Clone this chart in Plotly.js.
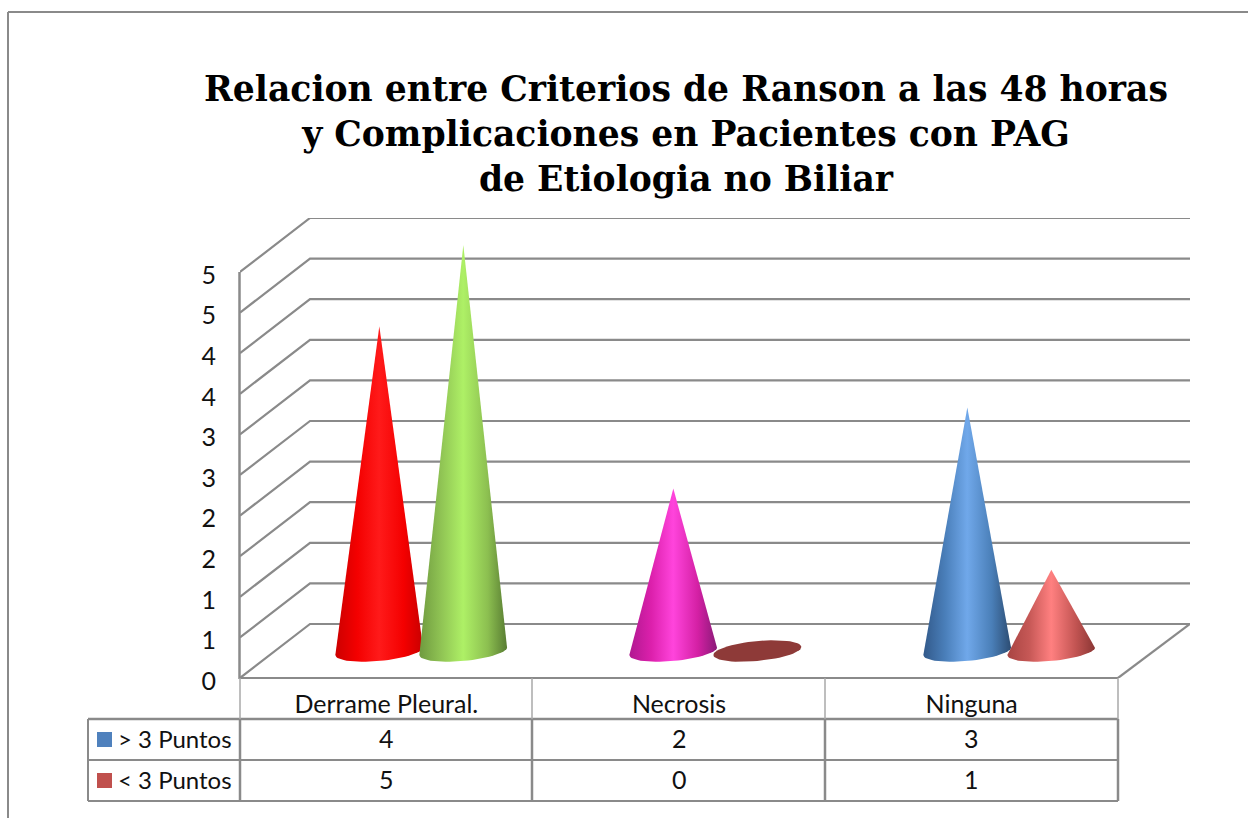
<!DOCTYPE html>
<html>
<head>
<meta charset="utf-8">
<script src="https://cdn.plot.ly/plotly-3.0.1.min.js"></script>
<style>html,body{margin:0;padding:0;background:#fff;overflow:hidden}</style>
</head>
<body>
<div id="chart" style="width:1248px;height:818px"></div>
<script>
// ---- data ----
const categories = ["Derrame Pleural.", "Necrosis", "Ninguna"];
const seriesNames = ["> 3 Puntos", "< 3 Puntos"];
const seriesHigh = [4, 2, 3];
const seriesLow = [5, 0, 1];
const gridValues = [0, 0.5, 1, 1.5, 2, 2.5, 3, 3.5, 4, 4.5, 5];
const tickLabels = ["0", "1", "1", "2", "2", "3", "3", "4", "4", "5", "5"];
const titleText = "Relacion entre Criterios de Ranson a las 48 horas<br>y Complicaciones en Pacientes con PAG<br>de Etiologia no Biliar";

// ---- styles ----
const gray = "#8a8a8a";
const legendColors = ["#4f81bd", "#c0504d"];
// [edge-left, mid-left, highlight, mid-right, edge-right]
const highPalettes = [
  ["#cc0000", "#f40000", "#ff1a1a", "#f40000", "#c80000"],
  ["#b01890", "#dc20ac", "#ff44dc", "#d420a4", "#8a1a78"],
  ["#32598a", "#4a7fba", "#70a8ea", "#4a7fb8", "#2c4c72"]
];
const lowPalettes = [
  ["#6f9a3f", "#90c454", "#aef066", "#8cbf50", "#587c32"],
  ["#8e3a38", "#8e3a38", "#8e3a38", "#8e3a38", "#8e3a38"],
  ["#a84442", "#c65856", "#ff8080", "#c25452", "#8a3634"]
];

// ---- geometry (plot frame in pixels) ----
const PX = {left: 240, right: 1190, top: 218, bottom: 678, front: 1118};
const catPx = (PX.front - PX.left) / categories.length;
const unitPx = 81.2;
const xRange = [-0.5, -0.5 + (PX.right - PX.left) / catPx];
const yRange = [0, (PX.bottom - PX.top) / unitPx];
const depthX = 70 / catPx, depthY = 54 / unitPx;
const coneAX = 44 / catPx, coneBY = 10 / unitPx, coneTilt = 4 / unitPx;
const coneBaseY = 27 / unitPx, coneShift = 35 / catPx, coneGap = 42 / catPx, coneStep = 294 / catPx;

function cone(catIndex, side, value, palette, name) {
  const cx = catIndex * coneStep + coneShift + side * coneGap;
  const xs = [], ys = [];
  if (value > 0) { xs.push(cx); ys.push(coneBaseY + value); }
  const endDeg = value > 0 ? 180 : 360;
  for (let d = 0; d <= endDeg; d += 6) {
    const t = d * Math.PI / 180;
    xs.push(cx + coneAX * Math.cos(t));
    ys.push(coneBaseY + coneTilt * Math.cos(t) - coneBY * Math.sin(t));
  }
  return {
    type: "scatter", mode: "lines", x: xs, y: ys, name: name,
    fill: "toself", line: {width: 0, color: palette[2]},
    fillcolor: palette[2],
    fillgradient: {type: "horizontal", colorscale: [
      [0, palette[0]], [0.25, palette[1]], [0.5, palette[2]], [0.78, palette[3]], [1, palette[4]]
    ]},
    hoverinfo: "skip", showlegend: false
  };
}

// walls and floor
const gx = [], gy = [];
gridValues.forEach(v => {
  gx.push(-0.5, -0.5 + depthX, xRange[1], null);
  gy.push(v, v + depthY, v + depthY, null);
});
gx.push(2.5, xRange[1]);
gy.push(0, depthY);
const gridTrace = {
  type: "scatter", mode: "lines", x: gx, y: gy,
  line: {color: gray, width: 2.2}, hoverinfo: "skip", showlegend: false
};

const traces = [gridTrace];
categories.forEach((c, i) => {
  traces.push(cone(i, -1, seriesHigh[i], highPalettes[i], seriesNames[0]));
  traces.push(cone(i, 1, seriesLow[i], lowPalettes[i], seriesNames[1]));
});

// paper helpers
const fx = px => (px - PX.left) / (PX.right - PX.left);
const fy = py => (PX.bottom - py) / (PX.bottom - PX.top);
const seg = (x0, y0, x1, y1, w, col) => ({
  type: "line", xref: "paper", yref: "paper",
  x0: fx(x0), y0: fy(y0), x1: fx(x1), y1: fy(y1),
  line: {color: col || gray, width: w || 2}
});
const rowY = [719, 760, 801];
const shapes = [
  seg(8, 12, 1248, 12, 2), seg(8, 12, 8, 818, 2),
  seg(239.5, 272, 239.5, 679, 2.5),
  seg(240, 678, 1118, 678, 2.2),
  seg(88, rowY[0], 1118, rowY[0], 2.5), seg(88, rowY[1], 1118, rowY[1], 2), seg(88, rowY[2], 1118, rowY[2], 2),
  seg(88, rowY[0], 88, rowY[2], 2),
  seg(240, 678, 240, rowY[0], 1.5, "#a8a8a8"), seg(532, 678, 532, rowY[0], 1.5, "#a8a8a8"),
  seg(825, 678, 825, rowY[0], 1.5, "#a8a8a8"), seg(1118, 678, 1118, rowY[0], 1.5, "#a8a8a8"),
  seg(240, rowY[0], 240, rowY[2], 2.5), seg(532, rowY[0], 532, rowY[2], 2.5),
  seg(825, rowY[0], 825, rowY[2], 2.5), seg(1118, rowY[0], 1118, rowY[2], 2.5)
];
[0, 1].forEach(r => shapes.push({
  type: "rect", xref: "paper", yref: "paper",
  x0: fx(97), x1: fx(112), y0: fy(732 + 41 * r), y1: fy(747 + 41 * r),
  fillcolor: legendColors[r], line: {width: 0}
}));

const tableFont = {family: "Lato, 'Open Sans', sans-serif", size: 25, color: "#111"};
const legendFont = {family: "Lato, 'Open Sans', sans-serif", size: 24, color: "#111"};
const annotations = [];
[seriesHigh, seriesLow].forEach((row, r) => {
  const cy = fy(738 + 41 * r);
  annotations.push({
    xref: "paper", yref: "paper", x: fx(115.5), y: cy, xanchor: "left", yanchor: "middle",
    text: seriesNames[r].replace("<", "&lt;"), showarrow: false, font: legendFont
  });
  row.forEach((v, i) => annotations.push({
    xref: "x", yref: "paper", x: i, y: cy, xanchor: "center", yanchor: "middle",
    text: String(v), showarrow: false, font: tableFont
  }));
});

const layout = {
  width: 1248, height: 818,
  margin: {l: PX.left, r: 1248 - PX.right, t: PX.top, b: 818 - PX.bottom},
  paper_bgcolor: "#fff", plot_bgcolor: "rgba(0,0,0,0)",
  title: {
    text: titleText, x: 686 / 1248, xanchor: "center", xref: "container",
    y: 1 - 101 / 818, yanchor: "top", yref: "container",
    font: {family: "'DejaVu Serif', serif", size: 34.6, color: "#000", weight: 700}
  },
  xaxis: {
    range: xRange, showgrid: false, zeroline: false, showline: false,
    tickmode: "array", tickvals: [0, 1, 2], ticktext: categories, ticks: "",
    ticklabelstandoff: 9, tickfont: tableFont, fixedrange: true
  },
  yaxis: {
    range: yRange, showgrid: false, zeroline: false, showline: false,
    tickmode: "array", tickvals: gridValues, ticktext: tickLabels, ticks: "",
    ticklabelstandoff: 23, ticklabelshift: 3, tickfont: tableFont, fixedrange: true
  },
  shapes: shapes, annotations: annotations, showlegend: false
};
Plotly.newPlot("chart", traces, layout, {displayModeBar: false, staticPlot: true});
</script>
</body>
</html>
